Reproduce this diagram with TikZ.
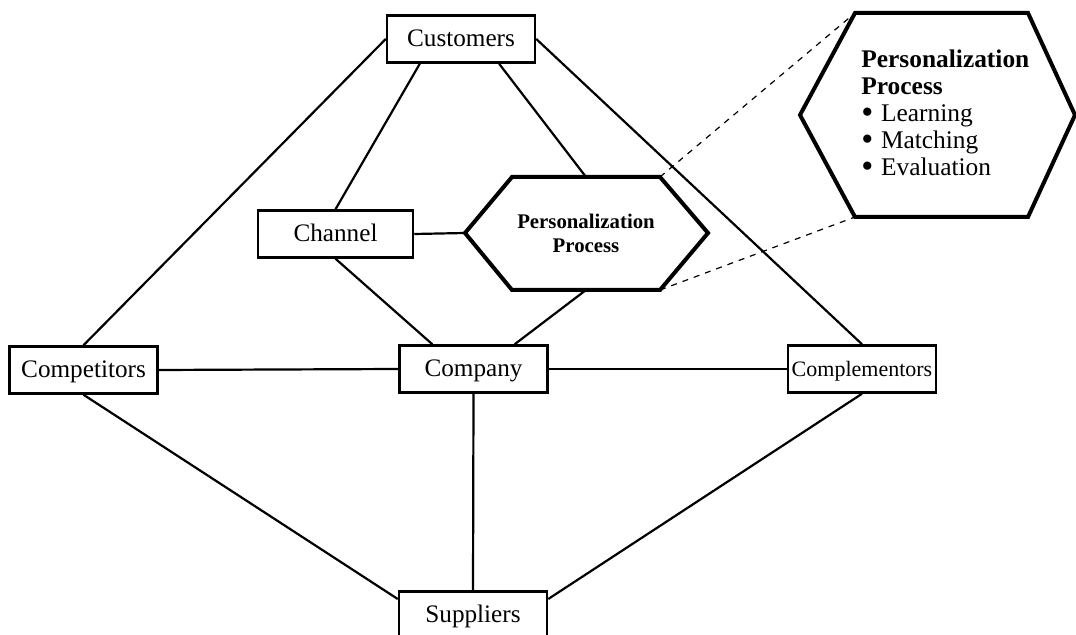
\documentclass[tikz,border=0pt]{standalone}
\usepackage{fontspec}
\setmainfont{Liberation Serif}
\usetikzlibrary{calc}
\newcommand{\hexbullet}{\smash{\raisebox{-0.08em}{\scalebox{1.35}{\textbullet}}}\hspace{0.3em}}

\begin{document}
\begin{tikzpicture}[x=0.5pt, y=-0.5pt,
    box/.style={draw, line width=1.25pt, minimum width=74pt, minimum height=23.5pt, inner sep=0pt,
        text height=11pt, text depth=3pt, font=\fontsize{12.6}{14}\selectfont},
    link/.style={line width=1.1pt},
    hexline/.style={line width=2pt, line join=miter},
    zoomline/.style={dashed, line width=0.6pt}]
    \useasboundingbox (0,0) rectangle (1076,635);

    % Boxes
    \node[box] (cust) at (461,39) {Customers};
    \node[box, minimum width=77.5pt] (chan) at (335.5,234) {Channel};
    \node[box] (compt) at (83.5,370) {Competitors};
    \node[box] (comp) at (473.5,369) {Company};
    \node[box, font=\fontsize{11}{13}\selectfont] (compl) at (862,369) {Complementors};
    \node[box] (supp) at (473,615) {Suppliers};

    % Personalization hexagon
    \coordinate (pL) at (465,233);
    \coordinate (pTL) at (512,177);
    \coordinate (pTR) at (660,177);
    \coordinate (pR) at (708,233);
    \coordinate (pBR) at (660,290);
    \coordinate (pBL) at (512,290);
    \coordinate (pT) at ($(pTL)!0.5!(pTR)$);
    \coordinate (pB) at ($(pBL)!0.5!(pBR)$);
    \draw[hexline] (pL) -- (pTL) -- (pTR) -- (pR) -- (pBR) -- (pBL) -- cycle;
    \node[font=\bfseries\fontsize{10.4}{12}\selectfont, align=center] (pp) at (586,233) {Personalization\\Process};

    % Zoomed hexagon
    \coordinate (zL) at (800,115);
    \coordinate (zTL) at (855,13);
    \coordinate (zTR) at (1028,13);
    \coordinate (zR) at (1075,115);
    \coordinate (zBR) at (1028,217);
    \coordinate (zBL) at (855,217);
    \draw[hexline] (zL) -- (zTL) -- (zTR) -- (zR) -- (zBR) -- (zBL) -- cycle;
    \node[anchor=north west, align=left, inner sep=0pt, font=\fontsize{12.7}{13.6}\selectfont] (zp) at (861,49)
        {\textbf{Personalization}\\\textbf{Process}\\\hexbullet Learning\\\hexbullet Matching\\\hexbullet Evaluation};
    \draw[zoomline] (pTR) -- (zTL);
    \draw[zoomline] (pBR) -- (zBL);

    % Links
    \draw[link] (cust.west) -- (compt.north);
    \draw[link] (cust.east) -- (compl.north);
    \draw[link] (cust.211) -- (chan.north);
    \draw[link] (cust.327) -- (pT);
    \draw[link] (chan.east) -- (pL);
    \draw[link] (chan.south) -- (comp.149);
    \draw[link] (pB) -- (comp.31);
    \draw[link] (compt.east) -- (comp.west);
    \draw[link] (comp.east) -- (compl.west);
    \draw[link] (compt.south) -- (supp.168);
    \draw[link] (comp.south) -- (supp.north);
    \draw[link] (compl.south) -- (supp.12);
\end{tikzpicture}
\end{document}
